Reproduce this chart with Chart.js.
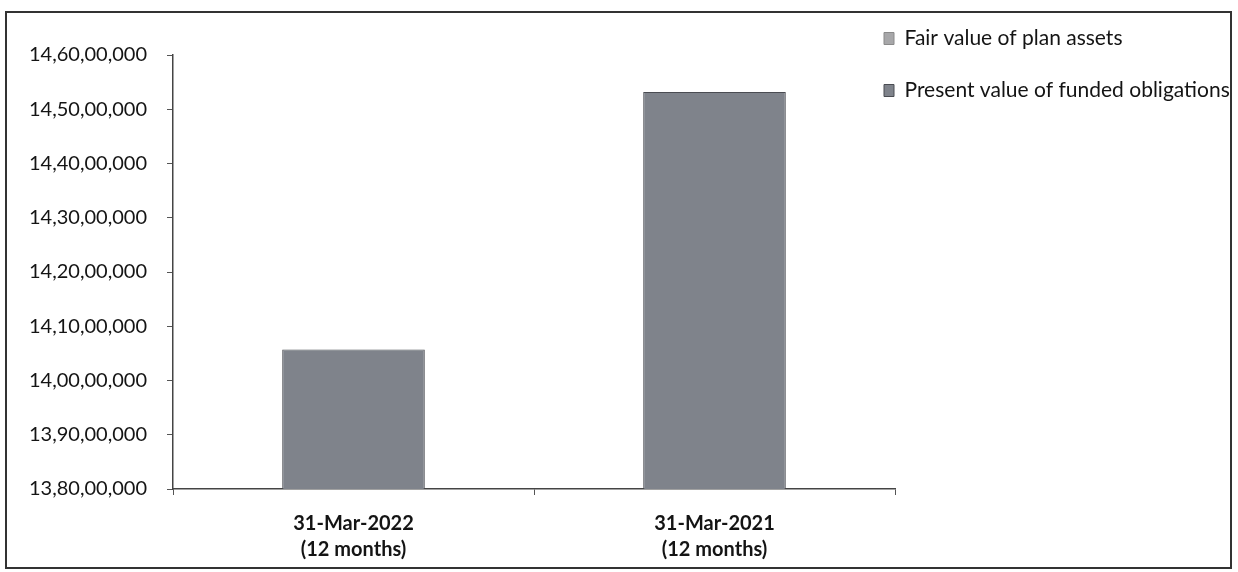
<!DOCTYPE html>
<html>
<head>
<meta charset="utf-8">
<script src="https://cdn.jsdelivr.net/npm/chart.js@4.4.1/dist/chart.umd.min.js"></script>
<style>
    html, body { margin: 0; padding: 0; background: #ffffff; }
    .frame {
        position: absolute;
        left: 5px;
        top: 11px;
        width: 1227px;
        height: 558px;
        border: 2px solid #333333;
        box-sizing: border-box;
    }
</style>
</head>
<body>
<div class="frame">
    <canvas id="planChart"></canvas>
</div>
<script>
// Chart data
const categories = [
    ['31-Mar-2022', '(12 months)'],
    ['31-Mar-2021', '(12 months)']
];
const fairValueOfPlanAssets = [null, null];
const presentValueOfFundedObligations = [140570000, 145320000];
const seriesNames = ['Fair value of plan assets', 'Present value of funded obligations'];

// Y axis range (Indian grouping in the labels)
const yMin = 138000000;
const yMax = 146000000;
const yStep = 1000000;

// 14,60,00,000 style formatting
function formatIndian(value) {
    const s = String(Math.round(value));
    const last3 = s.slice(-3);
    let rest = s.slice(0, -3);
    rest = rest.replace(/\B(?=(\d{2})+(?!\d))/g, ',');
    return rest ? rest + ',' + last3 : last3;
}

Chart.defaults.font.family = 'Lato, "Open Sans", sans-serif';
Chart.defaults.color = '#141414';

// Move the legend to where the original has it (next to the plot, top right)
const legendSpot = {
    id: 'legendSpot',
    afterLayout(chart) {
        const legend = chart.legend;
        if (!legend) return;
        const newLeft = 846;
        const newTop = -16;
        const h = legend.bottom - legend.top;
        legend.left = newLeft;
        legend.right = chart.width;
        legend.width = legend.right - legend.left;
        legend.top = newTop;
        legend.bottom = newTop + h;
    }
};

document.addEventListener('DOMContentLoaded', () => {
    const ctx = document.getElementById('planChart').getContext('2d');

    window.planChart = new Chart(ctx, {
        type: 'bar',
        data: {
            labels: categories,
            datasets: [{
                label: seriesNames[0],
                data: fairValueOfPlanAssets,
                backgroundColor: '#a7a7a9',
                borderColor: '#8a8a8a',
                borderWidth: 1
            }, {
                label: seriesNames[1],
                data: presentValueOfFundedObligations,
                backgroundColor: '#7f838b',
                borderColor: '#4a4c52',
                borderWidth: 1
            }]
        },
        options: {
            responsive: true,
            maintainAspectRatio: false,
            animation: false,
            categoryPercentage: 1,
            barPercentage: 0.395,
            layout: {
                padding: { top: 42, left: 0, right: 0, bottom: 0 }
            },
            plugins: {
                tooltip: { enabled: false },
                legend: {
                    position: 'right',
                    align: 'start',
                    maxWidth: 335,
                    labels: {
                        boxWidth: 10,
                        boxHeight: 12,
                        padding: 31,
                        color: '#141414',
                        font: { size: 21 }
                    }
                }
            },
            scales: {
                x: {
                    stacked: true,
                    afterFit: (scale) => { scale.height = 78; },
                    grid: {
                        offset: true,
                        drawOnChartArea: false,
                        tickLength: 6,
                        color: '#555555'
                    },
                    border: { color: '#444444', width: 1.5 },
                    ticks: {
                        padding: 16,
                        color: '#141414',
                        font: { size: 20, weight: 'bold', lineHeight: 1.3 }
                    }
                },
                y: {
                    stacked: true,
                    min: yMin,
                    max: yMax,
                    afterFit: (scale) => { scale.width = 166; },
                    grid: {
                        drawOnChartArea: false,
                        tickLength: 6,
                        color: '#555555'
                    },
                    border: { color: '#444444', width: 1.5 },
                    ticks: {
                        stepSize: yStep,
                        padding: 20,
                        color: '#141414',
                        font: { size: 20 },
                        callback: (value) => formatIndian(value)
                    }
                }
            }
        },
        plugins: [legendSpot]
    });
});
</script>
</body>
</html>
